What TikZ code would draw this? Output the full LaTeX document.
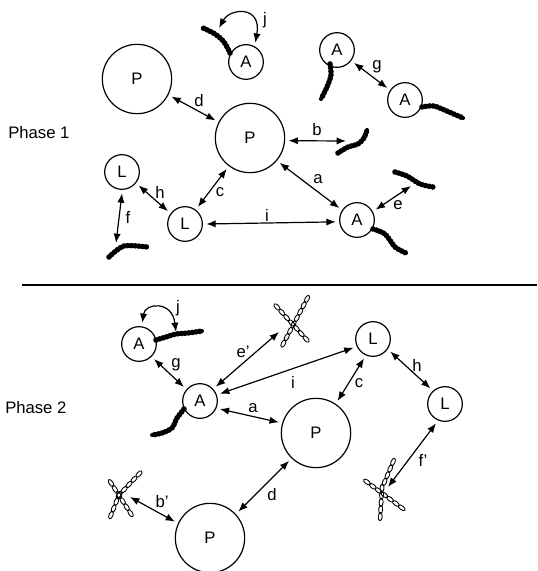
\documentclass[tikz,border=0pt]{standalone}
\usepackage{fontspec}
\setmainfont{Liberation Sans}
\usetikzlibrary{arrows.meta,decorations.markings}
\begin{document}
\begin{tikzpicture}[x=0.75pt,y=-0.75pt,
  font=\fontsize{12.5}{14}\selectfont,
  mol/.style={circle,draw,line width=0.9pt,inner sep=0pt,outer sep=3pt},
  small/.style={mol,minimum size=26pt},
  big/.style={mol,minimum size=52pt},
  dbl/.style={<->,>={Latex[length=7pt,width=5.4pt]},line width=0.9pt},
  lbl/.style={inner sep=0pt},
  beads/.style={line width=3pt,line cap=round,line join=round,
    postaction={draw,line width=4.2pt,dash pattern=on 0pt off 2.8pt}},
  links/.style={postaction={decorate,decoration={markings,
      mark=between positions 0 and 1 step 5.4pt with {\draw[line width=0.65pt] (0,0) ellipse (3pt and 1.5pt);}}}},
]
\useasboundingbox (0,0) rectangle (537,571);

% ---------------- Phase 1 ----------------
\node[anchor=west,inner sep=0pt] (ph1) at (8,133) {Phase 1};

\node[big]   (P1a) at (137,79)  {P};
\node[big]   (P1b) at (250,138) {P};
\node[small] (A1j) at (246,62)  {A};
\node[small] (A1g) at (337,50)  {A};
\node[small] (A1h) at (405,100) {A};
\node[small] (A1r) at (357,220) {A};
\node[small] (L1a) at (122,172) {L};
\node[small] (L1b) at (185,224) {L};

% bead chains
\draw[beads] plot[smooth] coordinates {(230,53) (224,42) (215,34) (203,28)};
\draw[beads] plot[smooth] coordinates {(330,64) (331,75) (327,87) (321,99)};
\draw[beads] plot[smooth] coordinates {(422,107) (434,106) (449,112) (463,118)};
\draw[beads] plot[smooth] coordinates {(338,153) (348,147) (358,144) (364,138) (367,130)};
\draw[beads] plot[smooth] coordinates {(395,172) (407,176) (420,184) (433,187)};
\draw[beads] plot[smooth] coordinates {(373,229) (385,234) (395,247) (406,253)};
\draw[beads] plot[smooth] coordinates {(109,257) (124,246) (147,247)};

% free ends at the chains
\coordinate (jEnd1) at (219,28);
\coordinate (bEnd)  at (346,141);
\coordinate (eEnd)  at (411,186);
\coordinate (fEnd)  at (116,243);

% interactions
\draw[dbl] (P1a.-27) -- (P1b.153);
\draw[dbl] (P1b.-4) -- (bEnd);
\draw[dbl] (P1b.-40) -- (A1r.146);
\draw[dbl] (A1r.29) -- (eEnd);
\draw[dbl] (L1b.0) -- (A1r.-175);
\draw[dbl] (L1b.53) -- (P1b.233);
\draw[dbl] (L1a.-39) -- (L1b.143);
\draw[dbl] (L1a.-90) -- (fEnd);
\draw[dbl] (A1g.-37) -- (A1h.146);
\draw[dbl] (jEnd1) .. controls (230,8) and (262,5) .. (A1j.64);

\node[lbl] (ld1) at (199,101) {d};
\node[lbl] (lb1) at (317,130) {b};
\node[lbl] (la1) at (318,179) {a};
\node[lbl] (le1) at (398,205) {e};
\node[lbl] (li1) at (267,215) {i};
\node[lbl] (lc1) at (220,192) {c};
\node[lbl] (lh1) at (160,192) {h};
\node[lbl] (lf1) at (128,217) {f};
\node[lbl] (lg1) at (377,67)  {g};
\node[lbl] (lj1) at (265,20)  {j};

% separator
\draw[line width=0.9pt] (22,285) -- (537,285);

% ---------------- Phase 2 ----------------
\node[anchor=west,inner sep=0pt] (ph2) at (5,408) {Phase 2};

\node[small] (A2j) at (139,344) {A};
\node[small] (A2)  at (200,401) {A};
\node[big]   (P2a) at (316,433) {P};
\node[small] (L2a) at (373,339) {L};
\node[small] (L2b) at (445,404) {L};
\node[big]   (P2b) at (210,538) {P};

% bead chains
\draw[beads] plot[smooth] coordinates {(156,340) (166,337) (176,334) (188,333) (202,331)};
\draw[beads] plot[smooth] coordinates {(184,409) (177,418) (172,428) (162,433) (152,435)};

% branched link chains
\path[links] (307,299) -- (281,348);
\path[links] (277,307) -- (307,340);
\path[links] (139,474) -- (119,495);
\path[links] (119,495) -- (109,520);
\path[links] (111,483) -- (133,517);
\path[links] (393,462) -- (382,488);
\path[links] (382,488) -- (380,520);
\path[links] (367,482) -- (402,508);

\coordinate (jEnd2) at (176,332);
\coordinate (ePEnd) at (279,332);
\coordinate (fPEnd) at (388,487);
\coordinate (bPEnd) at (130,497);

\draw[dbl] (A2j.81) .. controls (145,303) and (172,300) .. (jEnd2);
\draw[dbl] (A2j.-45) -- (A2.139);
\draw[dbl] (A2.42) -- (ePEnd);
\draw[dbl] (A2.20) -- (L2a.204);
\draw[dbl] (A2.-22) -- (P2a.164);
\draw[dbl] (L2a.245) -- (P2a.56);
\draw[dbl] (L2a.-36) -- (L2b.133);
\draw[dbl] (L2b.245) -- (fPEnd);
\draw[dbl] (P2a.226) -- (P2b.43);
\draw[dbl] (bPEnd) -- (P2b.155);

\node[lbl] (lj2) at (178,308) {j};
\node[lbl] (lg2) at (176,365) {g};
\node[lbl] (le2) at (243,352) {e’};
\node[lbl] (li2) at (293,382) {i};
\node[lbl] (la2) at (253,408) {a};
\node[lbl] (lc2) at (359,383) {c};
\node[lbl] (lh2) at (417,365) {h};
\node[lbl] (lf2) at (423,460) {f’};
\node[lbl] (ld2) at (272,495) {d};
\node[lbl] (lb2) at (162,502) {b’};
\end{tikzpicture}
\end{document}
